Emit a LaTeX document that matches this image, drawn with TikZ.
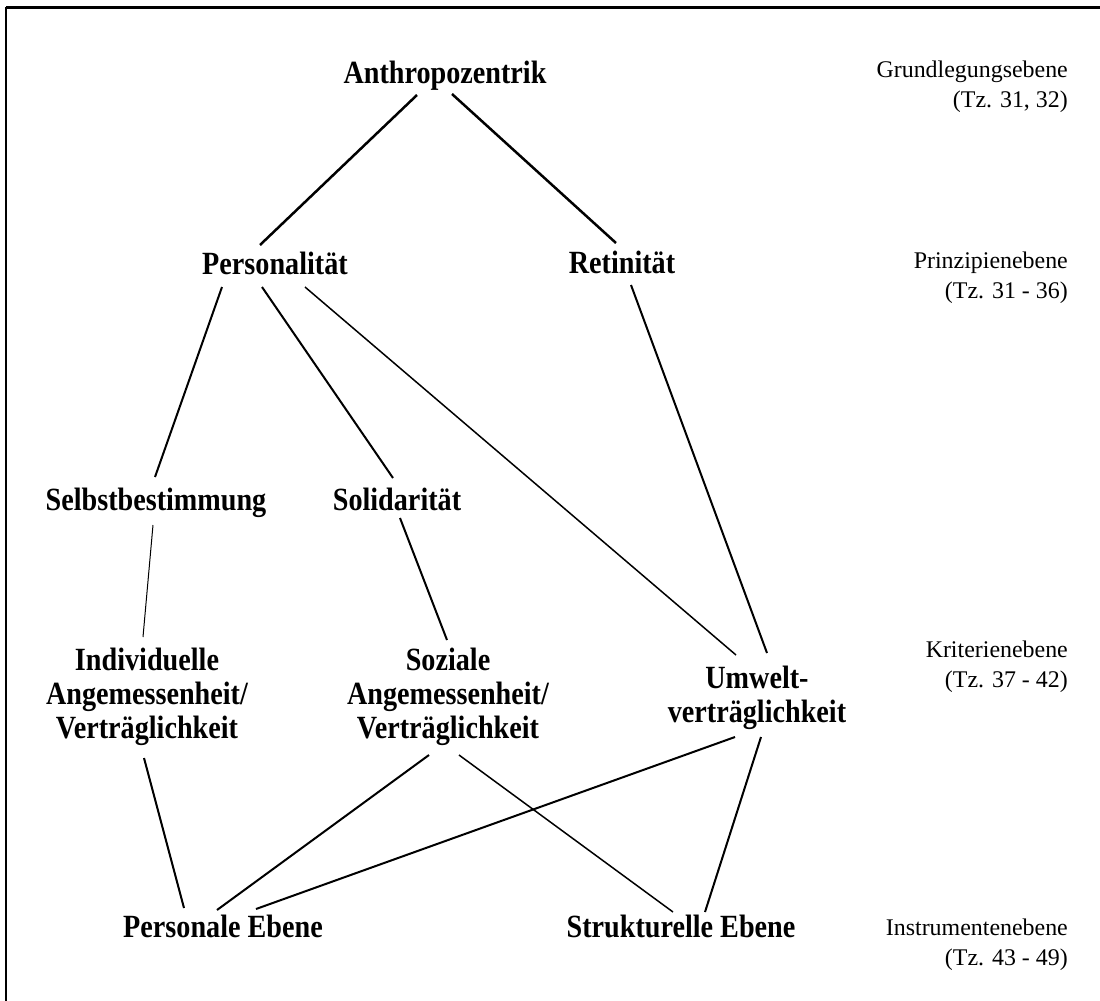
\documentclass[tikz,border=0pt]{standalone}
\usepackage{fontspec}
\setmainfont{Liberation Serif}
\newfontfamily\stufefont{Liberation Serif}[FakeStretch=0.87]
\usepackage{tikz}

\begin{document}
\begin{tikzpicture}[
  lbl/.style={anchor=base,align=center,inner sep=0pt,font=\stufefont\bfseries\fontsize{32.5}{34}\selectfont},
  ebene/.style={anchor=base east,align=right,inner sep=0pt,font=\fontsize{24}{30}\selectfont},
  edge/.style={line width=2bp},
  thin edge/.style={line width=1bp},
  mid edge/.style={line width=1.5bp}]
\useasboundingbox (0bp,0bp) rectangle (1100bp,-1001bp);
\draw [line width=3bp] (6bp,-7bp) -- (1100bp,-7bp);
\draw [line width=2.5bp] (6bp,-7bp) -- (6bp,-1001bp);
% Knoten
\node (An) at (445bp,-83bp)[lbl] {Anthropozentrik};
\node (Pe) at (275bp,-274bp)[lbl] {Personalität};
\node (Re) at (622bp,-273bp)[lbl] {Retinität};
\node (Se) at (156bp,-510bp)[lbl] {Selbstbestimmung};
\node (So) at (397bp,-510bp)[lbl] {Solidarität};
\node (IA) at (147bp,-738bp)[lbl] {Individuelle\\Angemessenheit/\\Verträglichkeit};
\node (SA) at (448bp,-738bp)[lbl] {Soziale\\Angemessenheit/\\Verträglichkeit};
\node (UV) at (757bp,-722bp)[lbl] {Umwelt-\\verträglichkeit};
\node (PE) at (223bp,-937bp)[lbl] {Personale Ebene};
\node (SE) at (681bp,-937bp)[lbl] {Strukturelle Ebene};
% Ebenen
\node (E1) at (1068bp,-107bp)[ebene] {Grundlegungsebene\\(Tz. 31, 32)};
\node (E2) at (1068bp,-298bp)[ebene] {Prinzipienebene\\(Tz. 31 - 36)};
\node (E3) at (1068bp,-687bp)[ebene] {Kriterienebene\\(Tz. 37 - 42)};
\node (E4) at (1068bp,-965bp)[ebene] {Instrumentenebene\\(Tz. 43 - 49)};
% Linien
\draw [edge,line width=2.5bp] ([xshift=-28bp,yshift=-12bp]An.base) -- ([xshift=-15bp,yshift=29bp]Pe.base);
\draw [edge,line width=2.5bp] ([xshift=7bp,yshift=-11bp]An.base) -- ([xshift=-6bp,yshift=30bp]Re.base);
\draw [edge] ([xshift=-53bp,yshift=-13bp]Pe.base) -- ([xshift=-1bp,yshift=33bp]Se.base);
\draw [edge] ([xshift=-13bp,yshift=-13bp]Pe.base) -- ([xshift=-4bp,yshift=32bp]So.base);
\draw [mid edge] ([xshift=30bp,yshift=-13bp]Pe.base) -- ([xshift=-21bp,yshift=67bp]UV.base);
\draw [edge] ([xshift=9bp,yshift=-12bp]Re.base) -- ([xshift=10bp,yshift=69bp]UV.base);
\draw [thin edge] ([xshift=-3bp,yshift=-15bp]Se.base) -- ([xshift=-4bp,yshift=101bp]IA.base);
\draw [edge] ([xshift=3bp,yshift=-8bp]So.base) -- ([xshift=-1bp,yshift=98bp]SA.base);
\draw [edge] ([xshift=-3bp,yshift=-20bp]IA.base) -- ([xshift=-39bp,yshift=29bp]PE.base);
\draw [edge] ([xshift=-19bp,yshift=-17bp]SA.base) -- ([xshift=-6bp,yshift=27bp]PE.base);
\draw [mid edge] ([xshift=11bp,yshift=-17bp]SA.base) -- ([xshift=-8bp,yshift=25bp]SE.base);
\draw [edge] ([xshift=-22bp,yshift=-15bp]UV.base) -- ([xshift=33bp,yshift=28bp]PE.base);
\draw [edge] ([xshift=4bp,yshift=-15bp]UV.base) -- ([xshift=24bp,yshift=25bp]SE.base);
\end{tikzpicture}
\end{document}
